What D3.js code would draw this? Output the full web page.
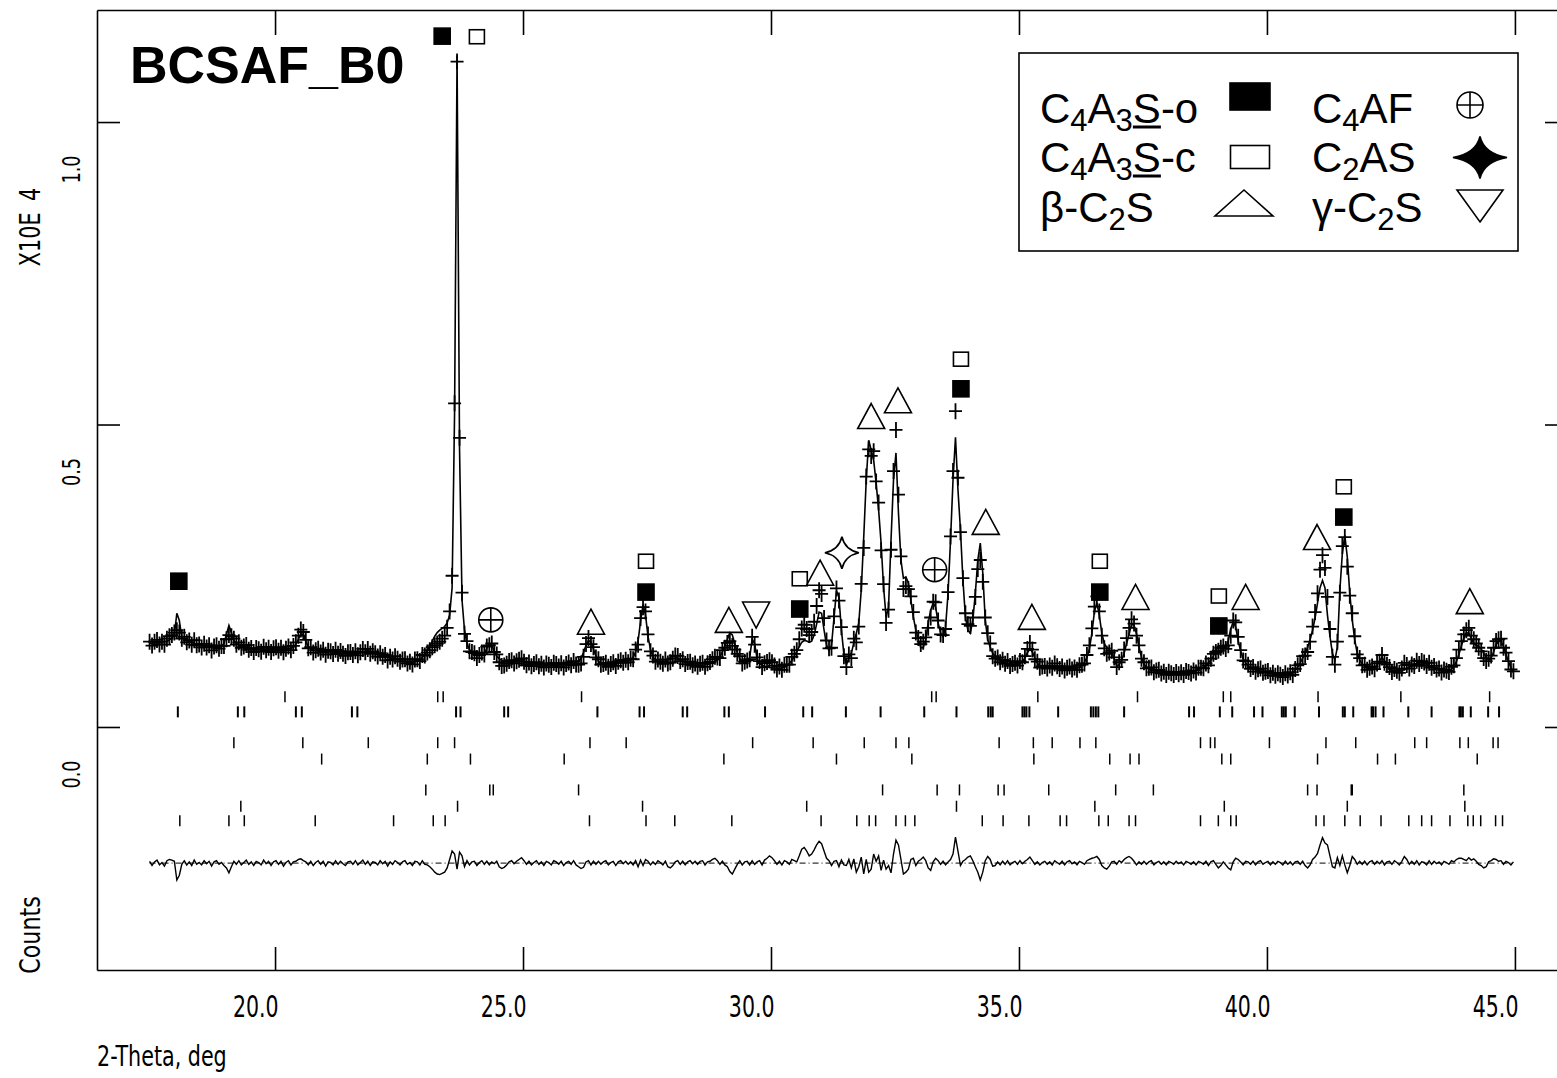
<!DOCTYPE html>
<html>
<head>
<meta charset="utf-8">
<script src="https://cdn.jsdelivr.net/npm/d3@7"></script>
<style>
  body { margin: 0; background: #fff; }
  svg { display: block; }
  .narrow { font-family: 'Liberation Sans Narrow', 'Arial Narrow', 'DejaVu Sans Condensed', sans-serif; }
  .sans { font-family: 'Liberation Sans', Arial, sans-serif; }
</style>
</head>
<body>
<div id="chart"></div>
<script>
// powder pattern: counts on a 0.05 deg step starting at 17.47
const startTwoTheta = 17.47
const stepTwoTheta = 0.05

const calcCounts = [
  1380, 1385, 1390, 1390, 1395, 1400, 1410, 1420, 1440, 1470, 1530, 1880, 1760, 1480, 1450, 1430, 1410, 1400, 1385, 1370, 1355,
  1345, 1335, 1325, 1320, 1315, 1310, 1310, 1315, 1330, 1380, 1530, 1680, 1560, 1430, 1380, 1360, 1340, 1320, 1305, 1295,
  1285, 1280, 1275, 1275, 1275, 1275, 1280, 1280, 1280, 1280, 1280, 1280, 1280, 1285, 1285, 1290, 1300, 1320, 1370, 1450,
  1540, 1530, 1420, 1330, 1290, 1270, 1260, 1255, 1250, 1245, 1245, 1240, 1240, 1235, 1235, 1230, 1225, 1220, 1215, 1215,
  1210, 1210, 1210, 1215, 1225, 1240, 1255, 1260, 1250, 1230, 1210, 1195, 1180, 1170, 1160, 1150, 1140, 1135, 1130, 1120,
  1110, 1095, 1080, 1070, 1070, 1075, 1085, 1100, 1120, 1150, 1200, 1260, 1330, 1420, 1500, 1560, 1600, 1630, 1660, 1720,
  1850, 2300, 5200, 11100, 4600, 2100, 1600, 1380, 1280, 1220, 1190, 1180, 1180, 1190, 1220, 1300, 1380, 1360, 1250, 1170,
  1130, 1100, 1085, 1075, 1070, 1065, 1060, 1055, 1050, 1045, 1040, 1040, 1035, 1035, 1030, 1030, 1025, 1025, 1025, 1020,
  1020, 1020, 1020, 1020, 1020, 1025, 1025, 1030, 1035, 1040, 1050, 1065, 1090, 1140, 1230, 1350, 1430, 1400, 1290, 1170,
  1090, 1050, 1020, 1020, 1025, 1030, 1040, 1050, 1060, 1065, 1070, 1080, 1090, 1110, 1150, 1240, 1420, 1750, 2020, 1850,
  1500, 1280, 1160, 1100, 1075, 1070, 1075, 1085, 1110, 1150, 1170, 1160, 1135, 1110, 1090, 1070, 1055, 1040, 1030, 1020,
  1015, 1015, 1020, 1025, 1035, 1045, 1060, 1080, 1110, 1160, 1240, 1340, 1450, 1560, 1520, 1380, 1230, 1130, 1080, 1060,
  1070, 1150, 1450, 1380, 1130, 1050, 1020, 1005, 995, 985, 980, 975, 970, 970, 975, 990, 1010, 1050, 1100, 1170,
  1250, 1330, 1400, 1430, 1420, 1400, 1420, 1520, 1700, 1900, 1880, 1600, 1350, 1260, 1350, 1800, 2250, 2150, 1600, 1200,
  1030, 1140, 1220, 1390, 1550, 1720, 2265, 3140, 4080, 4740, 4580, 4410, 4030, 3590, 3040, 2310, 1820, 1980, 3090, 4080,
  4530, 3540, 2760, 2460, 2480, 2380, 2100, 1820, 1600, 1440, 1310, 1310, 1440, 1720, 1930, 2050, 1980, 1720, 1550, 1490,
  1650, 2210, 3090, 4080, 4790, 3920, 3260, 2430, 1820, 1600, 1550, 1770, 2210, 2760, 3040, 2550, 1770, 1440, 1320, 1220,
  1170, 1130, 1100, 1080, 1065, 1050, 1040, 1030, 1030, 1035, 1050, 1080, 1140, 1230, 1290, 1240, 1140, 1060, 1010, 990,
  980, 985, 995, 1010, 1010, 995, 980, 970, 965, 960, 960, 960, 965, 975, 990, 1020, 1070, 1150, 1290, 1550,
  1900, 2050, 1850, 1550, 1380, 1310, 1280, 1240, 1120, 1010, 1030, 1100, 1220, 1380, 1530, 1700, 1680, 1540, 1330, 1150,
  1040, 990, 960, 945, 935, 925, 915, 905, 895, 890, 885, 880, 880, 880, 880, 885, 890, 895, 900, 905,
  915, 930, 950, 970, 990, 1020, 1060, 1110, 1170, 1260, 1340, 1350, 1310, 1320, 1430, 1620, 1740, 1650, 1430, 1250,
  1130, 1060, 1010, 980, 960, 945, 935, 925, 915, 905, 895, 885, 875, 865, 860, 855, 855, 860, 870, 885,
  890, 940, 990, 1060, 1140, 1220, 1320, 1440, 1600, 1800, 2050, 2300, 2420, 2300, 1850, 1500, 1220, 1110, 1320, 2260,
  2870, 3170, 2810, 2210, 1770, 1440, 1220, 1110,
  1040, 1000, 975, 960, 960, 975, 1020, 1090, 1150, 1090, 1010, 960, 930, 920, 920, 925, 935, 950, 965, 985,
  1005, 1030, 1055, 1070, 1070, 1055, 1040, 1020, 1000, 980, 960, 945, 930, 920, 920, 930, 955, 1000, 1080, 1200,
  1340, 1470, 1560, 1550, 1460, 1380, 1350, 1330, 1290, 1220, 1150, 1110, 1140, 1240, 1360, 1420, 1420, 1330, 1200, 1080,
  980, 900
]

// observed minus calculated, same grid
const diffCounts = [
  30, -40, 20, 50, -30, 10, -50, 40, 60, 50, 30, -280, -200, -20, 40, -30, 20, -40, 50, -20, 10,
  -30, 40, -10, 30, -50, 20, 40, -20, 10, -40, -80, -160, -60, 30, -20, 40, -30, 10, 50, -20,
  20, -40, 30, 10, -30, 50, -10, 30, -40, 20, 40, -20, 30, -50, 10, 40, -30, 20, 30, 60,
  70, 40, 20, -30, 30, -40, 10, 40, -20, 30, -50, 20, 10, -30, 40, -20, 30, -10, -40, 20,
  30, -20, 40, -30, 10, 50, -20, 30, -40, 20, 10, -30, 40, -10, 30, -50, 20, -20, 40, 10,
  -30, 20, 40, -20, 10, -40, 30, 20, -30, 40, -20, -30, -60, -100, -150, -180, -190, -170, -150, -80,
  60, 200, 150, -100, 180, 120, -60, 40, -30, 20, 30, -40, 10, 40, -20, 30, -30, 20, -10, 30,
  -60, -90, -70, -30, 20, 40, -10, 30, 60, 90, 40, -20, 30, -30, 10, 40, -20, 20, -40, 30,
  10, -30, 40, 20, -20, 30, -40, 10, 30, -20, 40, -30, -60, -90, -70, 20, 40, -30, 30, -20,
  30, -20, 20, 40, -30, 10, 30, -40, 20, 40, -10, 30, -20, 20, -30, 40, -60, 50, -40, 60,
  30, -30, 20, -20, 40, 10, -30, 30, -60, -80, -40, 20, 40, -20, 30, -30, 20, 40, -10, 30,
  -20, 30, 40, -30, 20, 30, 60, 80, 40, -20, 30, -30, -60, -140, -180, -100, -20, 40, -30, 20,
  30, -30, 40, -20, 20, 40, -30, 50, 80, 120, 90, 40, -20, 30, -30, 40, 20, -20, 60, 40,
  20, 120, 230, 260, 200, 120, 150, 220, 300, 360, 320, 200, 80, 40, -40, 30, 40, -60, 50, -30,
  -40, 60, -80, 70, -150, -60, 100, -180, 60, -150, -100, 150, 30, 120, -120, 50, -100, -40, -160, 150,
  380, 300, 60, -180, -150, -100, 60, 80, -40, 30, 60, 100, 40, -80, -120, 20, 80, 40, -20, 30,
  -30, 20, 60, 150, 430, 200, -40, 30, 60, 100, 120, 40, -60, -150, -280, -150, 40, 110, 60, -50,
  -40, 20, -30, 30, -20, 40, -30, 10, 30, -20, 40, -10, 30, 60, 100, 40, -20, 20, -30, 10,
  30, -20, 20, -30, 40, 10, -20, 30, -30, 20, 40, -10, 20, -30, 30, 10, -20, 40, 60, 80,
  90, 110, 60, -40, -80, -100, -50, 20, 30, -20, 40, 10, 60, 90, 110, 80, 30, -30, 20, -20,
  30, -20, 20, 40, -30, 10, 30, -20, 20, -30, 30, 10, -20, 30, -10, 20, -30, 30, 10, -20,
  20, -30, 30, 10, -20, 30, -40, 20, 40, -20, -80, -40, 20, -30, -80, -110, 20, 80, 60, 20,
  -30, 30, 20, -20, 30, -30, 20, 40, -20, 10, 30, -30, 20, -20, 30, 10, -30, 30, -20, 20,
  -30, 20, 30, -20, 30, -40, -80, -30, 60, 100, 160, 300, 420, 330, 300, 120, -60, -80, 90, -40,
  120, -30, -160, -40, 110, 60, -20, 30,
  -20, 30, -30, 20, 40, -20, 30, -10, 40, -30, 20, 30, -20, 40, 10, -30, 30, 110, 60, -20,
  30, -20, 40, -30, 20, 10, -30, 40, -20, 30, -10, 20, -30, 30, 10, -20, 40, 20, 60, 80,
  80, 60, 40, 90, 50, 70, 30, -20, -40, -80, -60, 20, 40, 70, 60, 30, 40, -20, 30, 10,
  -30, 20
]

// reflection positions (2-theta) of each phase, one row per phase
const reflectionRows = [
  [20.20, 23.28, 23.39, 26.18, 33.24, 33.33, 35.38, 37.39, 39.12, 39.27, 41.03, 42.70, 44.49],
  [18.04, 19.25, 19.38, 20.42, 20.54, 21.55, 21.66, 23.65, 23.74, 24.62, 24.70, 26.50, 27.35, 27.44, 28.22, 28.31,
   29.06, 29.15, 29.88, 30.65, 30.83, 31.51, 32.21, 33.09, 33.74, 34.38, 34.43, 34.47, 35.07, 35.11, 35.15, 35.21,
   35.79, 36.45, 36.50, 36.55, 36.60, 37.12, 38.43, 38.53, 39.05, 39.30, 39.74, 39.91, 40.30, 40.34, 40.38, 40.56,
   41.05, 41.53, 41.57, 41.74, 42.11, 42.14, 42.19, 42.35, 42.85, 43.32, 43.88, 43.91, 43.95, 44.11, 44.46, 44.68],
  [19.17, 20.56, 21.88, 23.28, 23.62, 26.35, 27.08, 29.63, 30.85, 31.88, 32.52, 32.78, 34.60, 35.29, 35.67, 36.23,
   36.55, 38.66, 38.86, 38.95, 40.05, 41.19, 41.79, 42.98, 43.22, 43.89, 44.06, 44.56, 44.66],
  [20.94, 23.07, 23.94, 25.83, 29.05, 31.32, 32.84, 35.30, 36.83, 37.24, 37.42, 39.09, 39.27, 41.02, 42.23, 42.59, 44.24],
  [23.04, 24.33, 24.40, 26.12, 32.25, 33.35, 33.80, 34.58, 34.70, 35.60, 36.95, 37.71, 40.82, 41.01, 41.70, 41.72, 43.97],
  [19.31, 23.68, 27.41, 30.72, 33.74, 36.53, 39.14, 41.62, 43.99],
  [18.08, 19.07, 19.38, 20.81, 22.39, 23.19, 23.43, 26.34, 27.48, 28.06, 29.21, 31.01, 31.73, 31.98, 32.11, 32.52,
   32.71, 32.90, 34.26, 34.68, 35.20, 35.83, 35.96, 36.61, 36.80, 37.22, 37.35, 38.66, 39.02, 39.27, 39.38, 40.99,
   41.15, 41.57, 41.88, 42.30, 42.86, 43.12, 43.32, 43.69, 44.05, 44.16, 44.31, 44.61, 44.75]
]

// peak labels: phase key, 2-theta, counts level
const peakMarks = [
  ['o', 18.06, 2410], ['o', 23.37, 11420], ['c', 24.07, 11410], ['af', 24.35, 1770], ['b', 26.37, 1740],
  ['o', 27.48, 2230], ['c', 27.48, 2740], ['b', 29.15, 1770], ['g', 29.70, 1850], ['o', 30.58, 1950],
  ['c', 30.58, 2450], ['b', 30.99, 2550], ['as', 31.43, 2880], ['b', 32.02, 5140], ['b', 32.56, 5400],
  ['af', 33.30, 2600], ['o', 33.83, 5590], ['c', 33.83, 6080], ['b', 34.33, 3390], ['b', 35.26, 1820],
  ['o', 36.63, 2230], ['c', 36.63, 2740], ['b', 37.35, 2150], ['o', 39.03, 1670], ['c', 39.03, 2165],
  ['b', 39.57, 2150], ['b', 41.01, 3140], ['o', 41.55, 3470], ['c', 41.55, 3970], ['b', 44.09, 2080]
]

const xTicks = [20, 25, 30, 35, 40, 45]
const yTicks = [0, 5000, 10000]

// legend labels: [text, kind] where kind is n(ormal), s(ubscript), u(nderlined)
const legendLeft = [
  { key: 'o', parts: [['C', 'n'], ['4', 's'], ['A', 'n'], ['3', 's'], ['S', 'u'], ['-o', 'n']] },
  { key: 'c', parts: [['C', 'n'], ['4', 's'], ['A', 'n'], ['3', 's'], ['S', 'u'], ['-c', 'n']] },
  { key: 'b', parts: [['β-C', 'n'], ['2', 's'], ['S', 'n']] }
]
const legendRight = [
  { key: 'af', parts: [['C', 'n'], ['4', 's'], ['AF', 'n']] },
  { key: 'as', parts: [['C', 'n'], ['2', 's'], ['AS', 'n']] },
  { key: 'g', parts: [['γ-C', 'n'], ['2', 's'], ['S', 'n']] }
]

;(function() {
  let width = 1557,
  height = 1078

  let svg = d3.select('#chart')
    .append('svg')
    .attr('width', width)
    .attr('height', height)

  let x = d3.scaleLinear().domain([16.41, 46.05]).range([97, 1567])
  let y = d3.scaleLinear().domain([-4017, 11852]).range([970, 10])

  let diffBase = -2250
  let rowLevels = [500, 250, -260, -530, -1040, -1310, -1550]

  let points = calcCounts.map((c, i) => ({
    t: startTwoTheta + i * stepTwoTheta,
    calc: c,
    diff: diffCounts[i],
    obs: c + diffCounts[i]
  }))

  // the plot font is a condensed one, squeeze what we have
  function squeeze(sel, k) {
    sel.each(function() {
      let len = this.getComputedTextLength()
      d3.select(this).attr('textLength', len * k).attr('lengthAdjust', 'spacingAndGlyphs')
    })
  }

  let plot = svg.append('g')

  // calculated profile
  plot.append('path')
    .datum(points)
    .attr('fill', 'none')
    .attr('stroke', '#000')
    .attr('stroke-width', 1.6)
    .attr('d', d3.line().x((d) => x(d.t)).y((d) => y(d.calc)))

  // observed points as crosses
  plot.selectAll('.obs')
    .data(points)
    .enter()
    .append('path')
    .attr('class', 'obs')
    .attr('transform', (d) => `translate(${x(d.t)},${y(d.obs)})`)
    .attr('d', 'M-6.5,0H6.5M0,-8V8')
    .attr('stroke', '#000')
    .attr('stroke-width', 1.8)

  // difference curve and its zero line
  plot.append('line')
    .attr('x1', x(points[0].t))
    .attr('x2', x(points[points.length - 1].t))
    .attr('y1', y(diffBase))
    .attr('y2', y(diffBase))
    .attr('stroke', '#000')
    .attr('stroke-width', 1)
    .attr('stroke-dasharray', '6,3,1,3')

  plot.append('path')
    .datum(points)
    .attr('fill', 'none')
    .attr('stroke', '#000')
    .attr('stroke-width', 1.4)
    .attr('d', d3.line().x((d) => x(d.t)).y((d) => y(diffBase + d.diff)))

  // reflection tick rows
  reflectionRows.forEach((row, r) => {
    plot.selectAll(null)
      .data(row)
      .enter()
      .append('line')
      .attr('x1', (d) => x(d))
      .attr('x2', (d) => x(d))
      .attr('y1', y(rowLevels[r]) - 5.5)
      .attr('y2', y(rowLevels[r]) + 5.5)
      .attr('stroke', '#000')
      .attr('stroke-width', r === 1 ? 2 : 1.5)
  })

  function symbol(g, key, cx, cy, big) {
    let s = g.append('g').attr('transform', `translate(${cx},${cy})`)
      .attr('stroke', '#000').attr('stroke-width', 1.6)
    if (key === 'o') {
      let w = big ? 40 : 16, h = big ? 27 : 16
      s.append('rect').attr('x', -w / 2).attr('y', -h / 2).attr('width', w).attr('height', h).attr('fill', '#000')
    } else if (key === 'c') {
      let w = big ? 39 : 15, h = big ? 23 : 14
      s.append('rect').attr('x', -w / 2).attr('y', -h / 2).attr('width', w).attr('height', h).attr('fill', '#fff')
    } else if (key === 'b') {
      let w = big ? 58 : 27, h = big ? 26 : 25
      s.append('path').attr('d', `M0,${-h / 2}L${w / 2},${h / 2}H${-w / 2}Z`).attr('fill', 'none')
    } else if (key === 'g') {
      let w = big ? 46 : 27, h = big ? 32 : 26
      s.append('path').attr('d', `M0,${h / 2}L${w / 2},${-h / 2}H${-w / 2}Z`).attr('fill', 'none')
    } else if (key === 'af') {
      let r = big ? 13 : 12
      s.append('circle').attr('r', r).attr('fill', 'none')
      s.append('path').attr('d', `M${-r},0H${r}M0,${-r}V${r}`)
    } else if (key === 'as') {
      let w = big ? 27 : 17, h = big ? 21 : 16, a = big ? 4 : 3
      s.append('path')
        .attr('d', `M0,${-h}Q${a},${-a} ${w},0Q${a},${a} 0,${h}Q${-a},${a} ${-w},0Q${-a},${-a} 0,${-h}Z`)
        .attr('fill', big ? '#000' : '#fff')
    }
  }

  peakMarks.forEach((m) => symbol(plot, m[0], x(m[1]), y(m[2]), false))

  // axes (frame lines are the axis domains)
  svg.append('g')
    .attr('transform', 'translate(0,970)')
    .call(d3.axisBottom(x).tickValues(xTicks).tickSize(-23).tickSizeOuter(0).tickFormat(d3.format('.1f')))
    .call((g) => g.selectAll('text')
      .attr('class', 'narrow')
      .style('font-size', '30px')
      .attr('fill', '#000')
      .attr('text-anchor', 'end').attr('x', 3).attr('y', 47).attr('dy', 0)
      .call(squeeze, 0.76))

  svg.append('g')
    .attr('transform', 'translate(0,10)')
    .call(d3.axisTop(x).tickValues(xTicks).tickSize(-25).tickSizeOuter(0).tickFormat(''))

  svg.append('g')
    .attr('transform', 'translate(97,0)')
    .call(d3.axisLeft(y).tickValues(yTicks).tickSize(-23).tickSizeOuter(0).tickFormat((d) => d3.format('.1f')(d / 10000)))
    .call((g) => g.selectAll('text')
      .attr('class', 'narrow')
      .style('font-size', '24px')
      .attr('fill', '#000')
      .attr('text-anchor', 'middle')
      .attr('x', 0).attr('y', 0).attr('dy', 0)
      .attr('transform', 'translate(-17,47) rotate(-90)')
      .call(squeeze, 0.82))

  svg.append('g')
    .attr('transform', 'translate(1567,0)')
    .call(d3.axisRight(y).tickValues(yTicks).tickSize(-22).tickSizeOuter(0).tickFormat(''))

  svg.selectAll('.domain, .tick line').attr('stroke', '#000').attr('stroke-width', 1.6)

  // titles
  svg.append('text')
    .attr('class', 'narrow')
    .attr('x', 97).attr('y', 1066)
    .style('font-size', '28px')
    .text('2-Theta, deg')
    .call(squeeze, 0.82)

  svg.append('text')
    .attr('class', 'narrow')
    .attr('transform', 'translate(40,935) rotate(-90)')
    .attr('text-anchor', 'middle')
    .style('font-size', '29px')
    .text('Counts')
    .call(squeeze, 0.85)

  let yl = svg.append('text')
    .attr('class', 'narrow')
    .attr('transform', 'translate(40,227) rotate(-90)')
    .attr('text-anchor', 'middle')
    .style('font-size', '29px')
  yl.append('tspan').text('X10E')
  yl.append('tspan').attr('dx', 6).text(' 4')
  yl.call(squeeze, 0.85)

  svg.append('text')
    .attr('class', 'sans')
    .attr('x', 130).attr('y', 83)
    .style('font-size', '52px')
    .style('font-weight', 'bold')
    .text('BCSAF_B0')

  // legend
  let legend = svg.append('g')
  legend.append('rect')
    .attr('x', 1019).attr('y', 53)
    .attr('width', 499).attr('height', 198)
    .attr('fill', '#fff')
    .attr('stroke', '#000')
    .attr('stroke-width', 1.6)

  function label(g, parts, lx, ly) {
    let t = g.append('text')
      .attr('class', 'sans')
      .attr('x', lx).attr('y', ly)
      .style('font-size', '42px')
    let shift = 0, index = 0, under = []
    parts.forEach((p) => {
      let sp = t.append('tspan').text(p[0])
      let want = p[1] === 's' ? 8 : 0
      if (want !== shift) sp.attr('dy', want - shift)
      shift = want
      if (p[1] === 's') sp.style('font-size', '31px')
      if (p[1] === 'u') under.push(index)
      index += p[0].length
    })
    under.forEach((i) => {
      let n = t.node()
      let a = n.getStartPositionOfChar(i).x
      let b = n.getEndPositionOfChar(i).x
      g.append('line')
        .attr('x1', a).attr('x2', b)
        .attr('y1', ly + 4).attr('y2', ly + 4)
        .attr('stroke', '#000').attr('stroke-width', 3)
    })
  }

  let rowBase = [123, 172, 222]
  let leftSym = [[1250, 96.5], [1250, 157], [1244, 203]]
  let rightSym = [[1470, 105], [1480, 157.5], [1480, 206]]

  legendLeft.forEach((d, i) => {
    label(legend, d.parts, 1040, rowBase[i])
    symbol(legend, d.key, leftSym[i][0], leftSym[i][1], true)
  })
  legendRight.forEach((d, i) => {
    label(legend, d.parts, 1312, rowBase[i])
    symbol(legend, d.key, rightSym[i][0], rightSym[i][1], true)
  })
})()
</script>
</body>
</html>
